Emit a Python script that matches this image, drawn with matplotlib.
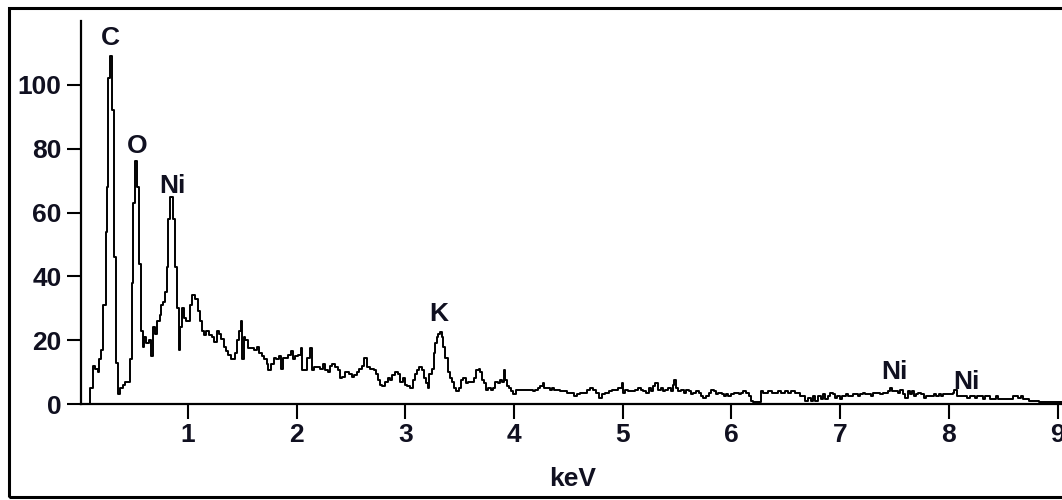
import matplotlib
matplotlib.use("Agg")
import matplotlib.pyplot as plt
from matplotlib.patches import Rectangle

# EDS spectrum (keV, counts), drawn as steps
energy = [
    0.00, 0.10, 0.125, 0.145, 0.17, 0.185, 0.20, 0.22, 0.245, 0.26, 0.27, 0.285, 0.305, 0.325, 0.34,
    0.355, 0.375, 0.40, 0.42, 0.465, 0.485, 0.50, 0.515, 0.535, 0.555, 0.57, 0.585, 0.60, 0.62, 0.645,
    0.66, 0.68, 0.70, 0.715, 0.74, 0.755, 0.775, 0.79, 0.805, 0.82, 0.84, 0.86, 0.88, 0.90, 0.915,
    0.93, 0.945, 0.965, 0.985, 1.005, 1.02, 1.04, 1.065, 1.09, 1.11, 1.13, 1.15, 1.17, 1.195, 1.22,
    1.245, 1.265, 1.29, 1.31, 1.33, 1.35, 1.37, 1.40, 1.42, 1.435, 1.45, 1.47, 1.485, 1.50, 1.515,
    1.53, 1.555, 1.58, 1.605, 1.635, 1.655, 1.68, 1.705, 1.725, 1.74, 1.765, 1.79, 1.81, 1.835, 1.86,
    1.88, 1.90, 1.925, 1.95, 1.97, 1.99, 2.015, 2.04, 2.055, 2.08, 2.095, 2.125, 2.14, 2.165, 2.19,
    2.22, 2.24, 2.265, 2.29, 2.31, 2.33, 2.355, 2.38, 2.40, 2.42, 2.45, 2.48, 2.51, 2.53, 2.555,
    2.575, 2.60, 2.62, 2.645, 2.675, 2.71, 2.73, 2.75, 2.77, 2.79, 2.815, 2.84, 2.86, 2.88, 2.905,
    2.93, 2.95, 2.975, 3.00, 3.02, 3.045, 3.07, 3.09, 3.11, 3.13, 3.15, 3.17, 3.19, 3.205, 3.22,
    3.245, 3.26, 3.275, 3.29, 3.305, 3.32, 3.335, 3.35, 3.365, 3.39, 3.41, 3.43, 3.445, 3.47, 3.49,
    3.51, 3.535, 3.56, 3.58, 3.60, 3.63, 3.65, 3.675, 3.69, 3.705, 3.725, 3.745, 3.765, 3.79, 3.81,
    3.83, 3.85, 3.87, 3.89, 3.905, 3.92, 3.935, 3.95, 3.97, 3.995, 4.02, 4.06, 4.10, 4.14, 4.175,
    4.195, 4.22, 4.24, 4.265, 4.28, 4.30, 4.33, 4.35, 4.37, 4.395, 4.425, 4.455, 4.49, 4.52, 4.55,
    4.58, 4.61, 4.64, 4.67, 4.70, 4.725, 4.75, 4.78, 4.81, 4.84, 4.87, 4.90, 4.93, 4.96, 4.99,
    5.00, 5.02, 5.05, 5.08, 5.11, 5.14, 5.17, 5.19, 5.21, 5.24, 5.26, 5.28, 5.30, 5.32, 5.35,
    5.37, 5.39, 5.42, 5.44, 5.46, 5.47, 5.49, 5.51, 5.54, 5.56, 5.58, 5.61, 5.63, 5.65, 5.67,
    5.70, 5.72, 5.74, 5.77, 5.79, 5.81, 5.84, 5.86, 5.88, 5.91, 5.93, 5.95, 5.97, 6.00, 6.02,
    6.04, 6.07, 6.09, 6.11, 6.13, 6.16, 6.18, 6.20, 6.23, 6.25, 6.27, 6.29, 6.31, 6.34, 6.37,
    6.40, 6.43, 6.46, 6.49, 6.52, 6.55, 6.58, 6.61, 6.63, 6.66, 6.68, 6.70, 6.73, 6.75, 6.77,
    6.80, 6.82, 6.84, 6.86, 6.89, 6.91, 6.93, 6.955, 6.975, 7.00, 7.02, 7.05, 7.07, 7.09, 7.115,
    7.14, 7.165, 7.185, 7.21, 7.23, 7.255, 7.28, 7.30, 7.32, 7.35, 7.37, 7.39, 7.415, 7.44, 7.46,
    7.48, 7.51, 7.53, 7.55, 7.575, 7.60, 7.625, 7.645, 7.66, 7.675, 7.70, 7.72, 7.745, 7.77, 7.79,
    7.81, 7.84, 7.86, 7.88, 7.905, 7.93, 7.95, 7.98, 8.01, 8.035, 8.05, 8.075, 8.11, 8.14, 8.17,
    8.19, 8.215, 8.24, 8.26, 8.29, 8.31, 8.335, 8.36, 8.38, 8.40, 8.43, 8.45, 8.47, 8.50, 8.535,
    8.565, 8.59, 8.61, 8.635, 8.66, 8.68, 8.71, 8.735, 8.765, 8.795, 8.83, 8.86, 8.90, 9.05,
]
counts = [
    0, 5, 12, 11, 10, 14, 17, 31, 54, 68, 102, 109, 92, 46, 13,
    3, 5, 6, 7, 14, 38, 63, 76, 68, 44, 23, 18, 21, 19, 20,
    15, 24, 22, 26, 28, 31, 32, 35, 43, 58, 65, 58, 43, 30, 17,
    24, 30, 27, 26, 26, 31, 34, 33, 29, 26, 23, 21.5, 23, 21.5, 21,
    19.5, 23, 22, 20.5, 18, 16.5, 15.5, 14, 14, 16, 20, 23, 26, 14, 21,
    20, 17.5, 17.5, 17, 18, 16, 15, 14, 12.5, 10.5, 12.5, 14.5, 14, 15, 11,
    14.5, 14.5, 15.5, 16.5, 14, 15, 15.5, 17.5, 10.5, 10.5, 14.5, 17.5, 10.5, 11.5, 11.5,
    11, 12.5, 10.5, 10, 12, 12.5, 11.5, 10.5, 8, 8.5, 10, 9.5, 8.5, 9, 10,
    11, 12, 14.5, 11.5, 11, 10.5, 9.5, 7.5, 6, 5.5, 7, 8, 7.5, 9, 10,
    9.5, 7, 8, 6, 5.5, 5, 7.5, 9.5, 10.5, 11.5, 10.5, 8, 6.5, 5, 9.5,
    11, 16, 19, 21, 22, 22.5, 21, 18, 14.5, 10, 8, 7, 5, 4, 5,
    7.5, 8, 6.5, 7, 7, 8, 10.5, 11, 10, 7.5, 6.5, 4.5, 5, 4.5, 5,
    7, 6.5, 7.5, 7, 10.5, 7.5, 5.5, 5, 4, 3, 4.5, 4.5, 4.5, 4.5, 4,
    4.5, 5, 5.5, 6.5, 5, 5, 4.5, 5, 4.5, 4.5, 4, 4, 3.5, 3.5, 2.5,
    3, 3.5, 3.5, 4.5, 5, 4.5, 3.5, 2, 3, 3.5, 4, 4.5, 4.5, 5, 6.5,
    3.5, 4.5, 4, 4, 4.5, 5, 4.5, 4, 3.5, 5, 4, 5.5, 6.5, 4.5, 5,
    4, 4.5, 5, 4, 6, 7.5, 5, 4, 4.5, 3.5, 4.5, 4, 3, 3.5, 4,
    3.5, 2.5, 2, 2.5, 3.5, 4.5, 4, 3, 3.5, 3, 2.5, 3, 2.5, 3, 3.5,
    3.5, 3, 3.5, 4, 3.5, 2.5, 1, 0.5, 0.5, 0.5, 4, 3.5, 3.5, 4, 3.5,
    3.5, 4, 3.5, 4, 3.5, 4, 3.5, 3.5, 2.5, 2.5, 1, 2, 1, 2.5, 1,
    2.5, 1.5, 3, 1.5, 2.5, 3.5, 3, 2, 2.5, 1.5, 2.5, 3, 2.5, 2.5, 3,
    3, 2.5, 3, 3.5, 3, 3, 2.5, 3.5, 3.5, 3.5, 3, 3.5, 3.5, 4, 5,
    4, 4, 3.5, 4.5, 3, 2, 4, 3, 4, 2.5, 3, 3.5, 3, 2, 2.5,
    2.5, 2.5, 3, 2.5, 3, 2.5, 3, 3, 3, 3.5, 4.5, 2.5, 2.5, 2.5, 2,
    2.5, 2.5, 2, 2.5, 2.5, 1.5, 2.5, 2.5, 1.5, 1.5, 2.5, 1.5, 1.5, 1.5, 1.5,
    1.5, 2.5, 2.5, 2, 2.5, 1.5, 1.5, 1, 1, 1, 0.5, 0.5, 0.5, 0.5,
]

x_ticks = [1, 2, 3, 4, 5, 6, 7, 8, 9]
y_ticks = [0, 20, 40, 60, 80, 100]

peak_names = ["C", "O", "Ni", "K", "Ni", "Ni"]
peak_kev = [0.285, 0.534, 0.856, 3.31, 7.50, 8.16]
peak_level = [114.7, 80.9, 68.3, 28.2, 10.0, 6.9]

txt = "#101020"
font = "Liberation Sans"

fig = plt.figure(figsize=(10.62, 5.0), dpi=100)
ax = fig.add_axes([81 / 1062, 96 / 500, (1062 - 81) / 1062, 383 / 500])

ax.plot(energy, counts, drawstyle="steps-post", color="black", lw=1.4)

ax.set_xlim(0.018, 9.04)
ax.set_ylim(0, 120)
ax.set_xticks(x_ticks)
ax.set_yticks(y_ticks)

for s in ["top", "right"]:
    ax.spines[s].set_visible(False)
for s in ["left", "bottom"]:
    ax.spines[s].set_linewidth(1.6)

ax.tick_params(axis="y", length=10, width=1.5, pad=4, labelsize=19, labelcolor=txt)
ax.tick_params(axis="x", length=11, width=1.5, pad=3, labelsize=19, labelcolor=txt)
for lab in ax.get_xticklabels() + ax.get_yticklabels():
    lab.set_fontfamily(font)
    lab.set_fontweight("bold")

for name, xk, yk in zip(peak_names, peak_kev, peak_level):
    ax.text(xk, yk, name, ha="center", va="center", fontsize=19, fontweight="bold",
            family=font, color=txt, clip_on=False)

fig.text(573 / 1062, 1 - 479 / 500, "keV", ha="center", va="center", fontsize=19,
         fontweight="bold", family=font, color=txt)

# outer frame, cut off on the right like the original
fig.patches.append(Rectangle((9 / 1062, 3 / 500), 1.2, 489 / 500, transform=fig.transFigure,
                             fill=False, edgecolor="black", lw=2.2))

fig.savefig("out.png", dpi=100)
